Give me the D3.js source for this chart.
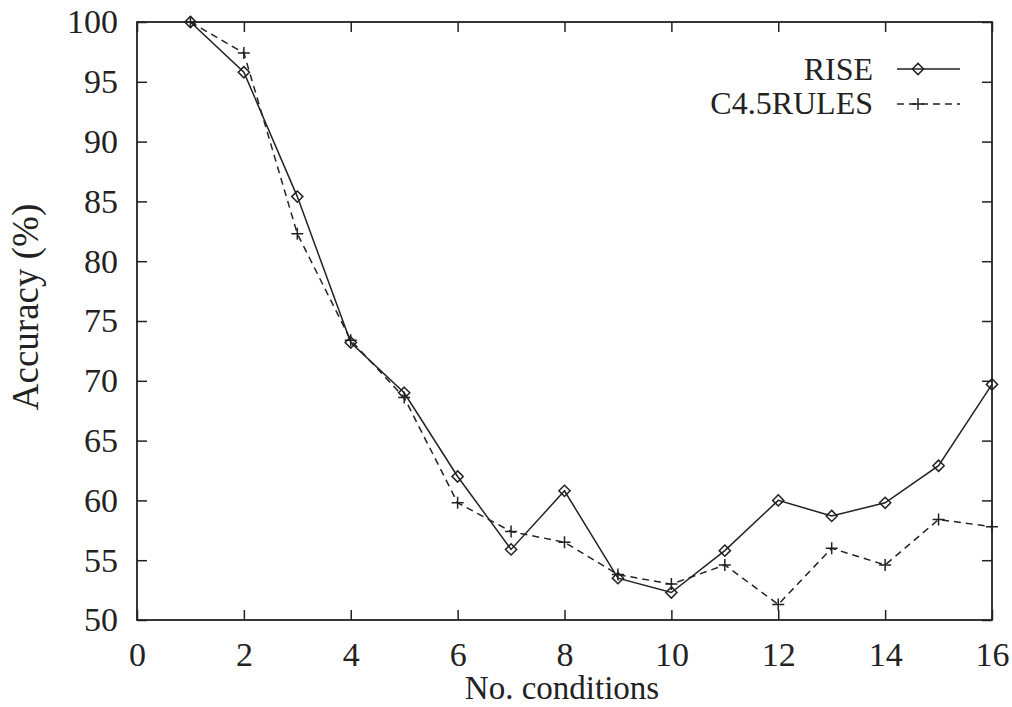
<!DOCTYPE html>
<html>
<head>
<meta charset="utf-8">
<script src="https://cdn.jsdelivr.net/npm/d3@7"></script>
<style>
  body { margin: 0; background: #fff; }
  text { font-family: "Liberation Serif", "Times New Roman", serif; fill: #222; }
</style>
</head>
<body>
<svg id="plot"></svg>
<script>
// Data
const conditions = [1, 2, 3, 4, 5, 6, 7, 8, 9, 10, 11, 12, 13, 14, 15, 16];
const riseAcc = [100, 95.8, 85.4, 73.2, 69.0, 62.0, 55.9, 60.8, 53.5, 52.3, 55.8, 60.0, 58.7, 59.8, 62.9, 69.7];
const c45Acc = [100, 97.4, 82.3, 73.4, 68.6, 59.8, 57.4, 56.5, 53.8, 53.0, 54.6, 51.3, 56.0, 54.6, 58.4, 57.8];
const xTicks = [0, 2, 4, 6, 8, 10, 12, 14, 16];
const yTicks = [50, 55, 60, 65, 70, 75, 80, 85, 90, 95, 100];

const W = 1012, H = 707;
const margin = { top: 22, right: 20, bottom: 87, left: 137 };
const width = W - margin.left - margin.right;
const height = H - margin.top - margin.bottom;
const ink = "#222";
const fs = "34px";

const svg = d3.select("#plot").attr("width", W).attr("height", H);
const g = svg.append("g").attr("transform", `translate(${margin.left},${margin.top})`);

const x = d3.scaleLinear().domain([0, 16]).range([0, width]);
const y = d3.scaleLinear().domain([50, 100]).range([height, 0]);

// axes: ticks pointing inward on all four sides
const tl = 10;
const styleAxis = sel => {
  sel.select(".domain").remove();
  sel.selectAll("line").attr("stroke", ink).attr("stroke-width", 1.5);
  sel.selectAll("text").style("font-size", fs).attr("fill", ink);
};
g.append("g").attr("transform", `translate(0,${height})`)
  .call(d3.axisBottom(x).tickValues(xTicks).tickSizeInner(-tl).tickSizeOuter(0).tickPadding(22))
  .call(styleAxis);
g.append("g")
  .call(d3.axisLeft(y).tickValues(yTicks).tickSizeInner(-tl).tickSizeOuter(0).tickPadding(19))
  .call(styleAxis);
g.append("g")
  .call(d3.axisTop(x).tickValues(xTicks).tickSizeInner(-tl).tickSizeOuter(0).tickFormat(""))
  .call(styleAxis);
g.append("g").attr("transform", `translate(${width},0)`)
  .call(d3.axisRight(y).tickValues(yTicks).tickSizeInner(-tl).tickSizeOuter(0).tickFormat(""))
  .call(styleAxis);

// frame
g.append("rect").attr("width", width).attr("height", height)
  .attr("fill", "none").attr("stroke", ink).attr("stroke-width", 1.8);

// lines
const line = d3.line().x((d, i) => x(conditions[i])).y(d => y(d));
g.append("path").datum(c45Acc).attr("d", line)
  .attr("fill", "none").attr("stroke", ink).attr("stroke-width", 1.5)
  .attr("stroke-dasharray", "7,5");
g.append("path").datum(riseAcc).attr("d", line)
  .attr("fill", "none").attr("stroke", ink).attr("stroke-width", 1.5);

const diamond = d3.symbol().type(d3.symbolDiamond2).size(80);
// thin plus made of two strokes
const plusType = {
  draw(ctx, size) {
    const r = Math.sqrt(size) / 2;
    ctx.moveTo(-r, 0); ctx.lineTo(r, 0);
    ctx.moveTo(0, -r); ctx.lineTo(0, r);
  }
};
const plus = d3.symbol().type(plusType).size(144);

g.selectAll(".rise").data(riseAcc).enter().append("path")
  .attr("class", "rise")
  .attr("transform", (d, i) => `translate(${x(conditions[i])},${y(d)})`)
  .attr("d", diamond).attr("fill", "none").attr("stroke", ink).attr("stroke-width", 1.5);
g.selectAll(".c45").data(c45Acc).enter().append("path")
  .attr("class", "c45")
  .attr("transform", (d, i) => `translate(${x(conditions[i])},${y(d)})`)
  .attr("d", plus).attr("fill", "none").attr("stroke", ink).attr("stroke-width", 1.5);

// legend
const legend = [
  { name: "RISE", sym: diamond, dash: null, ly: 69, base: 80 },
  { name: "C4.5RULES", sym: plus, dash: "7,5", ly: 104, base: 114 }
];
legend.forEach(d => {
  svg.append("text").attr("x", 873).attr("y", d.base)
    .attr("text-anchor", "end").style("font-size", "32px").text(d.name);
  svg.append("line").attr("x1", 897).attr("x2", 960)
    .attr("y1", d.ly).attr("y2", d.ly).attr("stroke", ink).attr("stroke-width", 1.5)
    .attr("stroke-dasharray", d.dash);
  svg.append("path").attr("transform", `translate(918,${d.ly})`)
    .attr("d", d.sym).attr("fill", "none").attr("stroke", ink).attr("stroke-width", 1.5);
});

// axis labels
svg.append("text").attr("x", 562).attr("y", 699)
  .attr("text-anchor", "middle").style("font-size", "33px").text("No. conditions");
svg.append("text").attr("transform", "rotate(-90)")
  .attr("x", -307).attr("y", 38)
  .attr("text-anchor", "middle").style("font-size", "37px").text("Accuracy (%)");
</script>
</body>
</html>
